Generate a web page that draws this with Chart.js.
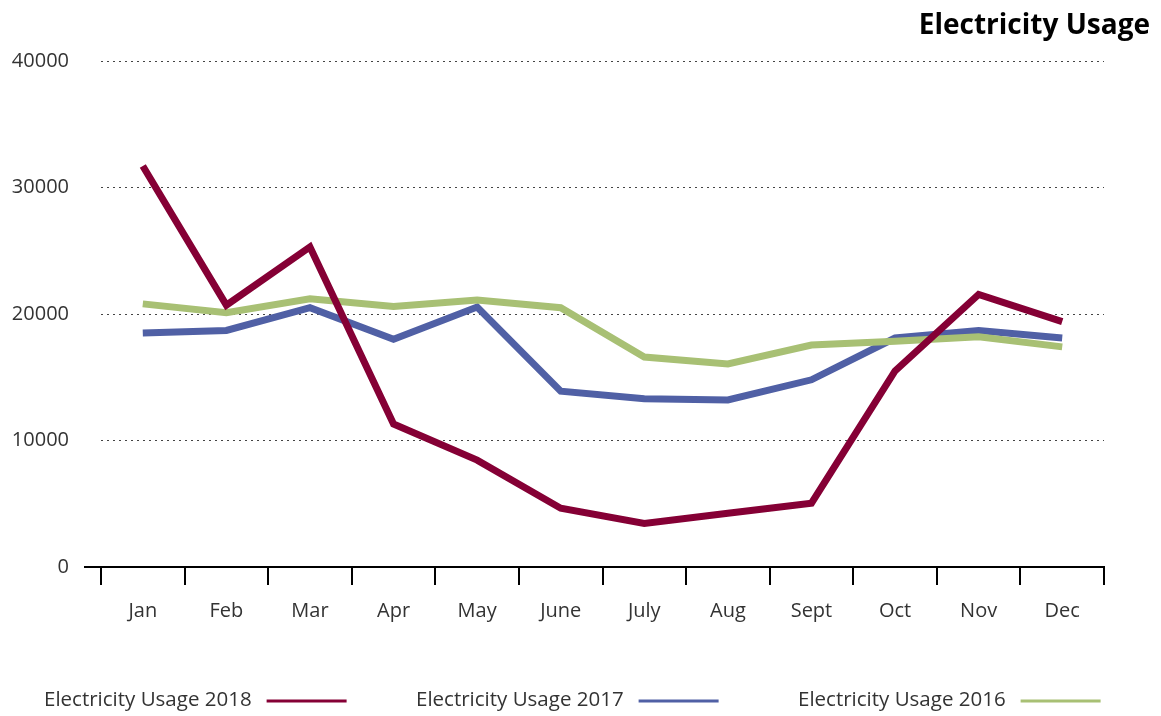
<!DOCTYPE html>
<html><head><meta charset="utf-8">
<script src="https://cdn.jsdelivr.net/npm/chart.js@4"></script>
<style>html,body{margin:0;padding:0;background:#fff}#wrap{width:1161px;height:716px;position:relative}</style>
</head><body><div id="wrap"><canvas id="c" width="1161" height="716"></canvas></div>
<script>
const categories = ["Jan","Feb","Mar","Apr","May","June","July","Aug","Sept","Oct","Nov","Dec"];
const seriesNames = ["Electricity Usage 2018","Electricity Usage 2017","Electricity Usage 2016"];
const usage2018 = [31700,20700,25300,11300,8450,4650,3450,4250,5050,15500,21550,19400];
const usage2017 = [18500,18700,20500,18000,20550,13900,13300,13200,14800,18100,18700,18100];
const usage2016 = [20800,20100,21200,20600,21100,20500,16600,16050,17550,17850,18200,17400];
const yTicks = [0,10000,20000,30000,40000];
const titleText = "Electricity Usage";
const colors = ["#850035","#5060a5","#a8c074"];
const drawOrder = [0,2,1];
const FONT = "'Open Sans', 'Noto Sans', sans-serif";

const overlay = {
  id: 'overlay',
  afterDraw(chart){
    const ctx = chart.ctx;
    ctx.save();
    ctx.fillStyle = '#000';
    ctx.font = "bold 28px " + FONT;
    ctx.textAlign = 'right';
    ctx.textBaseline = 'alphabetic';
    ctx.fillText(titleText, 1150, 34);
    // legend
    const starts = [44, 416, 798];
    ctx.font = "20.5px " + FONT;
    ctx.textAlign = 'left';
    ctx.textBaseline = 'middle';
    chart.data.datasets.forEach((ds,i)=>{
      ctx.fillStyle = '#333';
      ctx.fillText(ds.label, starts[i], 700);
      const w = ctx.measureText(ds.label).width;
      ctx.strokeStyle = ds.borderColor;
      ctx.lineWidth = 3;
      ctx.beginPath();
      ctx.moveTo(starts[i] + w + 15, 701);
      ctx.lineTo(starts[i] + w + 95, 701);
      ctx.stroke();
    });
    // x axis line extension
    const a = chart.chartArea;
    ctx.strokeStyle = '#000';
    ctx.lineWidth = 2;
    ctx.beginPath();
    ctx.moveTo(84, a.bottom);
    ctx.lineTo(a.right, a.bottom);
    ctx.stroke();
    ctx.restore();
  }
};

new Chart(document.getElementById('c'), {
  type: 'line',
  data: {
    labels: categories,
    datasets: [usage2018, usage2017, usage2016].map((d,i)=>({
      label: seriesNames[i],
      data: d,
      order: drawOrder[i],
      borderColor: colors[i],
      backgroundColor: colors[i],
      borderWidth: 7,
      pointRadius: 0,
      tension: 0,
      borderJoinStyle: 'miter',
      borderCapStyle: 'butt',
      fill: false
    }))
  },
  options: {
    responsive: false,
    animation: false,
    layout: { padding: { top: 61, right: 57, bottom: 70, left: 0 } },
    plugins: { legend: { display: false }, title: { display: false }, tooltip: { enabled: false } },
    scales: {
      x: {
        offset: true,
        grid: { offset: true, drawOnChartArea: false, drawTicks: true, tickLength: 18, color: '#000', lineWidth: 2 },
        border: { display: true, color: '#000', width: 2 },
        ticks: { color: '#333', font: { family: FONT, size: 20 }, padding: 14, maxRotation: 0, autoSkip: false },
        afterFit(s){ s.height = 79; }
      },
      y: {
        min: 0, max: 40000,
        afterBuildTicks(s){ s.ticks = yTicks.map(v=>({value:v})); },
        grid: { drawTicks: false, color: '#444', lineWidth: 1 },
        border: { display: false, dash: [2,4] },
        ticks: { color: '#333', font: { family: FONT, size: 20 }, padding: 32, callback: v => String(v) },
        afterFit(s){ s.width = 101; }
      }
    }
  },
  plugins: [overlay]
});
</script></body></html>
